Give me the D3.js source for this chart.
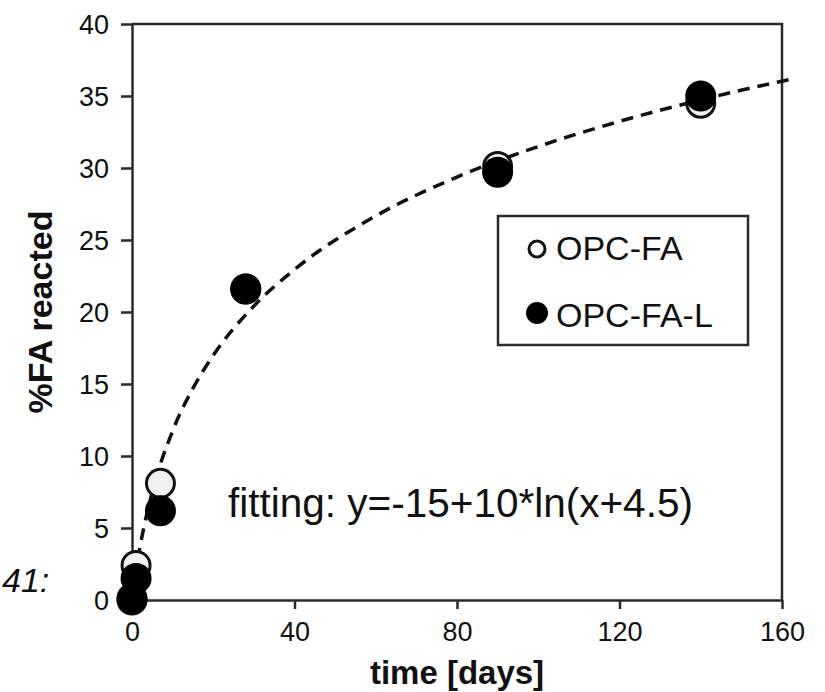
<!DOCTYPE html>
<html>
<head>
<meta charset="utf-8">
<script src="https://cdn.jsdelivr.net/npm/d3@7"></script>
<style>
  body { margin: 0; background: #fff; }
  svg { display: block; }
  text { font-family: "Liberation Sans", Arial, sans-serif; fill: #111; }
</style>
</head>
<body>
<div id="chart"></div>
<script>
// data
const days = [0, 1, 7, 28, 90, 140];
const opcFA = [0, 2.4, 8.1, 21.6, 30.1, 34.5];
const opcFAL = [0.1, 1.5, 6.2, 21.6, 29.7, 35.0];
const fitX = [0, 1, 2, 5, 10, 15, 20, 30, 40, 60, 80, 100, 120, 140, 160, 162];
const fitY = [0.04, 2.05, 3.72, 7.51, 11.74, 14.7, 16.99, 20.41, 22.95, 26.67, 29.37, 31.49, 33.24, 34.73, 36.03, 36.15];
const xTicks = [0, 40, 80, 120, 160];
const yTicks = [0, 5, 10, 15, 20, 25, 30, 35, 40];

let width = 825, height = 692;
let margin = {top: 24, right: 43, bottom: 92, left: 132};

let svg = d3.select("#chart")
    .append("svg")
    .attr("width", width)
    .attr("height", height);

let x = d3.scaleLinear()
    .domain([0, 160])
    .range([margin.left, width - margin.right]);

let y = d3.scaleLinear()
    .domain([0, 40])
    .range([height - margin.bottom, margin.top]);

const axisColor = "#2a2a2a";

// x axis
let gx = svg.append("g")
    .attr("transform", `translate(0,${y(0)})`)
    .call(d3.axisBottom(x).tickValues(xTicks).tickSize(9).tickPadding(13).tickSizeOuter(0));
gx.selectAll("text").style("font-size", "27px");

// y axis
let gy = svg.append("g")
    .attr("transform", `translate(${x(0)},0)`)
    .call(d3.axisLeft(y).tickValues(yTicks).tickSize(11).tickPadding(12).tickSizeOuter(0));
gy.selectAll("text").style("font-size", "27px").attr("dy", "0.36em");

svg.selectAll(".domain, .tick line")
    .attr("stroke", axisColor)
    .attr("stroke-width", 2.5);

// frame top and right
svg.append("path")
    .attr("fill", "none")
    .attr("stroke", axisColor)
    .attr("stroke-width", 2.5)
    .attr("d", `M${x(0)},${y(40)}H${x(160)}V${y(0)}`);

// fitted curve
svg.append("path")
    .datum(fitX.map((d, i) => [d, fitY[i]]))
    .attr("fill", "none")
    .attr("stroke", "#111")
    .attr("stroke-width", 3.5)
    .attr("stroke-dasharray", "12,8")
    .attr("d", d3.line()
        .curve(d3.curveMonotoneX)
        .x(d => x(d[0]))
        .y(d => y(d[1]))
    );

// open circles
svg.append("g")
    .selectAll("circle")
    .data(days)
    .enter()
    .append("circle")
    .attr("cx", d => x(d))
    .attr("cy", (d, i) => y(opcFA[i]))
    .attr("r", 14)
    .attr("fill", "#f0f0f0")
    .attr("stroke", "#111")
    .attr("stroke-width", 3);

// filled circles
svg.append("g")
    .selectAll("circle")
    .data(days)
    .enter()
    .append("circle")
    .attr("cx", d => x(d))
    .attr("cy", (d, i) => y(opcFAL[i]))
    .attr("r", 15.5)
    .attr("fill", "#000");

// legend
let legend = svg.append("g");
legend.append("rect")
    .attr("x", 498).attr("y", 216)
    .attr("width", 250).attr("height", 129)
    .attr("fill", "#fff")
    .attr("stroke", axisColor)
    .attr("stroke-width", 2.5);
legend.append("circle")
    .attr("cx", 537).attr("cy", 249).attr("r", 8)
    .attr("fill", "#fff").attr("stroke", "#111").attr("stroke-width", 3);
legend.append("circle")
    .attr("cx", 537).attr("cy", 313).attr("r", 11)
    .attr("fill", "#000");
legend.append("text")
    .attr("x", 556).attr("y", 260)
    .style("font-size", "34px")
    .text("OPC-FA");
legend.append("text")
    .attr("x", 556).attr("y", 327)
    .style("font-size", "34px")
    .text("OPC-FA-L");

// fitting formula
svg.append("text")
    .attr("x", 228).attr("y", 517)
    .style("font-size", "40.5px")
    .text("fitting: y=-15+10*ln(x+4.5)");

// axis titles
svg.append("text")
    .attr("x", x(80)).attr("y", 684)
    .attr("text-anchor", "middle")
    .style("font-size", "33px")
    .style("font-weight", "bold")
    .text("time [days]");

svg.append("text")
    .attr("transform", "translate(52,312) rotate(-90)")
    .attr("text-anchor", "middle")
    .style("font-size", "34px")
    .style("font-weight", "bold")
    .text("%FA reacted");

// caption fragment at left edge
svg.append("text")
    .attr("x", 2).attr("y", 592)
    .style("font-size", "34px")
    .style("font-style", "italic")
    .text("41:");
</script>
</body>
</html>
